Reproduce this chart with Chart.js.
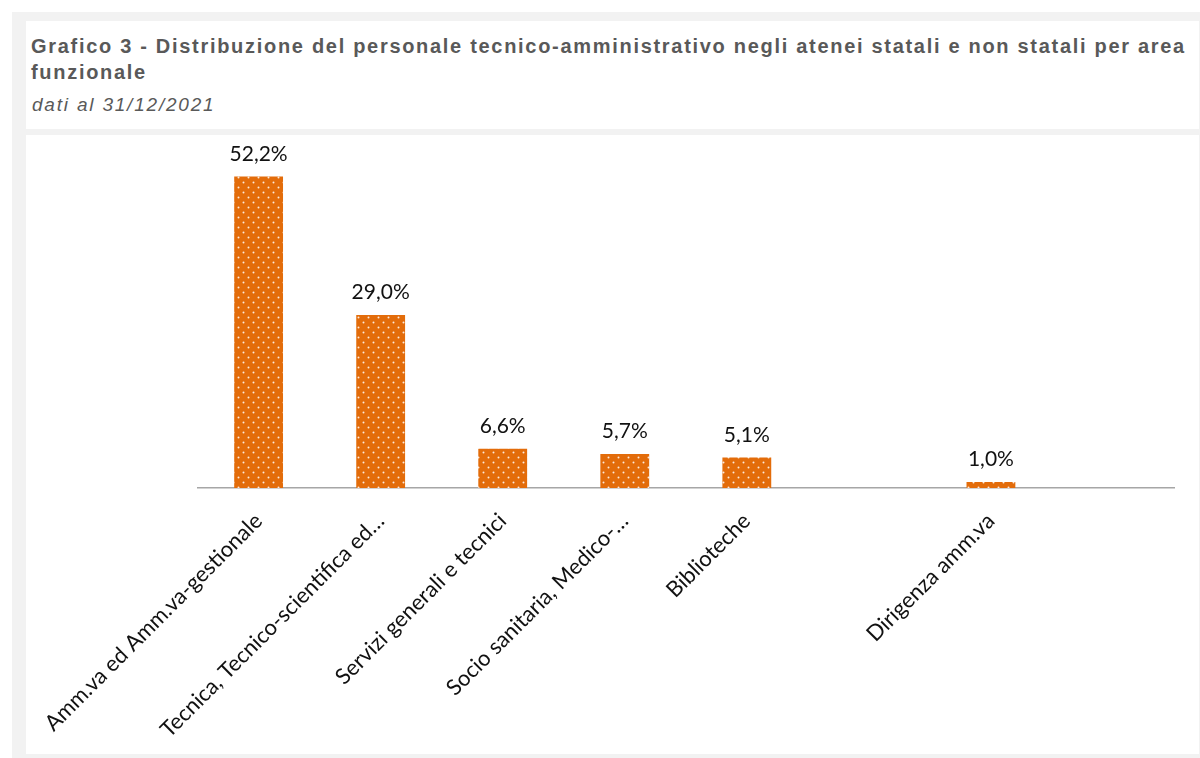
<!DOCTYPE html>
<html>
<head>
<meta charset="utf-8">
<script src="https://cdn.jsdelivr.net/npm/chart.js@4.4.0/dist/chart.umd.min.js"></script>
<style>
    html, body { margin: 0; padding: 0; background: #fff; }
    body { width: 1200px; height: 758px; position: relative; overflow: hidden; }
    #frame { position: absolute; left: 12px; top: 12px; width: 1188px; height: 746px; background: #f2f2f2; }
    #head {
        position: absolute; left: 26px; top: 21px; width: 1173px; height: 108px; background: #fff;
        font-family: "Liberation Sans", Arial, sans-serif; color: #595959;
    }
    #head .t { position: absolute; left: 5px; font-size: 20px; font-weight: bold; white-space: nowrap; letter-spacing: 1.7px; }
    #head .s { position: absolute; left: 6px; font-size: 19px; font-style: italic; white-space: nowrap; letter-spacing: 1.8px; }
    #panel { position: absolute; left: 26px; top: 135px; width: 1173px; height: 619px; background: #fff; }
</style>
</head>
<body>
<div id="frame"></div>
<div id="head">
    <div class="t" style="top:14px">Grafico 3 - Distribuzione del personale tecnico-amministrativo negli atenei statali e non statali per area</div>
    <div class="t" style="top:40px">funzionale</div>
    <div class="s" style="top:73px">dati al 31/12/2021</div>
</div>
<div id="panel"><canvas id="chart" width="1173" height="619"></canvas></div>
<script>
const aree = [
    'Amm.va ed Amm.va-gestionale',
    'Tecnica, Tecnico-scientifica ed…',
    'Servizi generali e tecnici',
    'Socio sanitaria, Medico-…',
    'Biblioteche',
    '',
    'Dirigenza amm.va',
    ''
];
const quote = [52.2, 29.0, 6.6, 5.7, 5.1, null, 1.0, null];

// orange fill with the small white dot texture
function dotPattern() {
    const c = document.createElement('canvas');
    c.width = 10; c.height = 10;
    const g = c.getContext('2d');
    g.fillStyle = '#e36c0a';
    g.fillRect(0, 0, 10, 10);
    g.fillStyle = 'rgba(255,255,255,0.85)';
    [[2.5, 2.5], [7.5, 7.5]].forEach(function(p) {
        g.beginPath();
        g.arc(p[0], p[1], 1, 0, Math.PI * 2);
        g.fill();
    });
    return document.getElementById('chart').getContext('2d').createPattern(c, 'repeat');
}

// percentage written above every bar
const valueLabels = {
    id: 'valueLabels',
    afterDatasetsDraw(chart) {
        const ctx = chart.ctx;
        const meta = chart.getDatasetMeta(0);
        ctx.save();
        ctx.font = '21px Lato, sans-serif';
        ctx.fillStyle = '#111';
        ctx.textAlign = 'center';
        ctx.textBaseline = 'alphabetic';
        meta.data.forEach(function(bar, i) {
            const v = quote[i];
            if (v === null) return;
            ctx.fillText(v.toFixed(1).replace('.', ',') + '%', bar.x, bar.y - 16);
        });
        ctx.restore();
    }
};

const ctx = document.getElementById('chart').getContext('2d');
const myChart = new Chart(ctx, {
    type: 'bar',
    data: {
        labels: aree,
        datasets: [{
            data: quote,
            backgroundColor: dotPattern(),
            borderWidth: 0,
            categoryPercentage: 1,
            barPercentage: 0.4
        }]
    },
    options: {
        responsive: false,
        animation: false,
        layout: { padding: { left: 171, right: 25, top: 7, bottom: 0 } },
        plugins: {
            legend: { display: false },
            tooltip: { enabled: false }
        },
        scales: {
            x: {
                grid: { display: false },
                border: { display: true, color: '#a6a6a6', width: 1.5 },
                ticks: {
                    autoSkip: false,
                    maxRotation: 45,
                    minRotation: 45,
                    color: '#111',
                    padding: 12,
                    font: { family: 'Lato', size: 22 }
                },
                afterFit: function(scale) { scale.height = 266; }
            },
            y: {
                display: false,
                min: 0,
                max: 58
            }
        }
    },
    plugins: [valueLabels]
});
</script>
</body>
</html>
